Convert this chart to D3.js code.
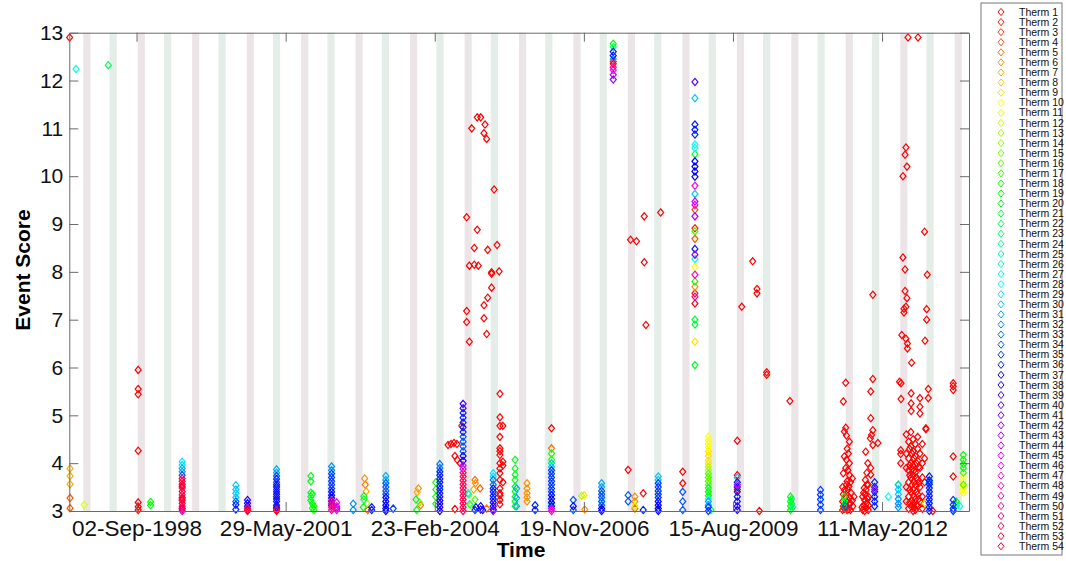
<!DOCTYPE html>
<html>
<head>
<meta charset="utf-8">
<script src="https://cdn.jsdelivr.net/npm/d3@7"></script>
<style>
  body { margin: 0; background: #fff; }
  text { font-family: "Liberation Sans", Arial, Helvetica, sans-serif; }
</style>
</head>
<body>
<svg id="chart" width="1066" height="561"></svg>
<script>
// legend categories
const thermNames = d3.range(1, 55).map(i => "Therm " + i);

// axis ticks
const xTickDates = ["1998-09-02", "2001-05-29", "2004-02-23", "2006-11-19", "2009-08-15", "2012-05-11"];
const yTicks = [3, 4, 5, 6, 7, 8, 9, 10, 11, 12, 13];

// background bands (start, end)
const pinkBands = [
  ["1997-09-10", "1997-10-28"], ["1998-09-10", "1998-10-28"], ["1999-09-10", "1999-10-28"],
  ["2000-09-10", "2000-10-28"], ["2001-09-10", "2001-10-28"], ["2002-09-10", "2002-10-28"],
  ["2003-09-10", "2003-10-28"], ["2004-09-10", "2004-10-28"], ["2005-09-10", "2005-10-28"],
  ["2006-09-10", "2006-10-28"], ["2007-09-10", "2007-10-28"], ["2008-09-10", "2008-10-28"],
  ["2009-09-10", "2009-10-28"], ["2010-09-10", "2010-10-28"], ["2011-09-10", "2011-10-28"],
  ["2012-09-10", "2012-10-28"], ["2013-09-10", "2013-10-28"]
];
const greenBands = [
  ["1998-03-05", "1998-04-22"], ["1999-03-05", "1999-04-22"], ["2000-03-05", "2000-04-22"],
  ["2001-03-05", "2001-04-22"], ["2002-03-05", "2002-04-22"], ["2003-03-05", "2003-04-22"],
  ["2004-03-05", "2004-04-22"], ["2005-03-05", "2005-04-22"], ["2006-03-05", "2006-04-22"],
  ["2007-03-05", "2007-04-22"], ["2008-03-05", "2008-04-22"], ["2009-03-05", "2009-04-22"],
  ["2010-03-05", "2010-04-22"], ["2011-03-05", "2011-04-22"], ["2012-03-05", "2012-04-22"],
  ["2013-03-05", "2013-04-22"]
];

// events: [date, therm number, event scores]
const events = [
  ["1997-06-10", 1, [12.9]],
  ["1997-06-13", 7, [3.89, 3.73, 3.56]],
  ["1997-06-13", 4, [3.27, 3.06]],
  ["1997-07-23", 27, [12.24]],
  ["1997-09-16", 11, [3.13]],
  ["1998-02-24", 22, [12.32]],
  ["1998-09-13", 1, [5.95, 5.55, 5.44, 4.26, 3.18, 3.09, 3.02]],
  ["1998-12-05", 19, [3.19, 3.12]],
  ["1999-07-05", 29, [4.03, 3.96]],
  ["1999-07-05", 31, [3.89, 3.82]],
  ["1999-07-05", 34, [3.75]],
  ["1999-07-05", 44, [3.0, 3.06]],
  ["1999-07-05", 51, [3.62, 3.48, 3.34, 3.22, 3.1]],
  ["1999-07-05", 53, [3.68, 3.56, 3.41, 3.28, 3.16]],
  ["1999-07-05", 54, [3.52, 3.25, 3.04]],
  ["2000-06-29", 30, [3.54, 3.45, 3.37, 3.28]],
  ["2000-06-29", 34, [3.2]],
  ["2000-06-29", 36, [3.13, 3.03]],
  ["2000-09-15", 38, [3.23, 3.16, 3.1]],
  ["2000-09-15", 1, [3.02]],
  ["2000-09-15", 53, [3.06, 3.0]],
  ["2001-03-29", 31, [3.87, 3.8]],
  ["2001-03-29", 34, [3.73, 3.6, 3.45]],
  ["2001-03-29", 36, [3.67, 3.55, 3.4, 3.3, 3.2, 3.12]],
  ["2001-03-29", 38, [3.5, 3.35, 3.25, 3.08]],
  ["2001-03-29", 1, [3.05, 3.0]],
  ["2001-03-29", 53, [3.02]],
  ["2001-11-14", 20, [3.73, 3.62, 3.38, 3.3, 3.22]],
  ["2001-11-24", 19, [3.35, 3.15, 3.06]],
  ["2001-12-05", 18, [3.1, 3.02]],
  ["2002-04-02", 32, [3.93, 3.85]],
  ["2002-04-02", 35, [3.78, 3.7, 3.62, 3.55, 3.47]],
  ["2002-04-02", 37, [3.4, 3.33, 3.27, 3.2, 3.12]],
  ["2002-04-02", 50, [3.22, 3.15, 3.08, 3.02]],
  ["2002-05-06", 47, [3.18, 3.1, 3.02]],
  ["2002-05-06", 40, [3.06]],
  ["2002-08-25", 32, [3.15, 3.02]],
  ["2002-11-10", 6, [3.68]],
  ["2002-11-14", 5, [3.55]],
  ["2002-11-20", 7, [3.41]],
  ["2002-11-05", 20, [3.31, 3.24]],
  ["2002-11-25", 13, [3.16]],
  ["2002-11-01", 19, [3.08]],
  ["2002-12-01", 4, [3.02]],
  ["2002-12-27", 36, [3.08, 3.02]],
  ["2003-04-01", 31, [3.73, 3.65]],
  ["2003-04-01", 34, [3.58, 3.5, 3.42, 3.35]],
  ["2003-04-01", 37, [3.28, 3.2, 3.12, 3.05, 3.0]],
  ["2003-05-20", 35, [3.05]],
  ["2003-11-05", 6, [3.47]],
  ["2003-10-28", 7, [3.39]],
  ["2003-10-20", 19, [3.24]],
  ["2003-11-12", 15, [3.18]],
  ["2003-11-20", 5, [3.12]],
  ["2003-10-25", 20, [3.02]],
  ["2004-03-01", 18, [3.6, 3.45, 3.3, 3.15]],
  ["2004-03-28", 33, [3.98, 3.9]],
  ["2004-03-28", 36, [3.82, 3.75, 3.67, 3.6, 3.52, 3.45, 3.37]],
  ["2004-03-28", 38, [3.3, 3.22, 3.15, 3.08, 3.0]],
  ["2004-05-22", 1, [4.38]],
  ["2004-06-11", 1, [4.4]],
  ["2004-07-01", 1, [4.42]],
  ["2004-07-21", 1, [4.4]],
  ["2004-07-07", 1, [4.15, 3.04]],
  ["2004-07-23", 1, [4.07]],
  ["2004-08-11", 1, [4.0]],
  ["2004-08-22", 2, [4.78]],
  ["2004-08-31", 39, [5.24, 5.15]],
  ["2004-08-31", 36, [5.05, 4.95, 4.85, 4.75, 4.65]],
  ["2004-08-31", 34, [4.55, 4.45, 4.35, 4.25]],
  ["2004-08-31", 37, [4.15, 4.05]],
  ["2004-08-31", 44, [3.95, 3.88]],
  ["2004-08-31", 52, [3.8, 3.72, 3.64, 3.56, 3.48, 3.4, 3.32, 3.24, 3.16, 3.08, 3.0]],
  ["2004-09-24", 1, [9.14, 7.18, 6.95]],
  ["2004-10-12", 1, [8.13, 6.54]],
  ["2004-10-28", 1, [11.0]],
  ["2004-11-14", 1, [8.5, 8.15]],
  ["2004-12-04", 1, [11.23, 8.88]],
  ["2004-12-11", 1, [8.13]],
  ["2004-12-27", 1, [11.23]],
  ["2005-01-18", 1, [10.9, 7.3, 7.03]],
  ["2005-01-25", 1, [11.08]],
  ["2005-02-05", 1, [10.78, 6.7]],
  ["2005-02-12", 1, [8.46, 7.46]],
  ["2005-03-10", 1, [7.99, 7.96, 7.67]],
  ["2005-03-27", 1, [9.72]],
  ["2005-04-16", 1, [8.56]],
  ["2005-04-30", 1, [8.01]],
  ["2004-10-03", 26, [3.37]],
  ["2004-10-08", 17, [3.35]],
  ["2004-10-15", 23, [3.14]],
  ["2004-10-20", 12, [3.12]],
  ["2004-11-10", 7, [3.45]],
  ["2004-11-19", 5, [3.65]],
  ["2004-11-19", 16, [3.24]],
  ["2004-11-19", 35, [3.02]],
  ["2004-11-22", 6, [3.58]],
  ["2004-11-25", 36, [3.08]],
  ["2004-12-23", 4, [3.47]],
  ["2004-12-27", 38, [3.1, 3.03]],
  ["2005-01-10", 38, [3.02]],
  ["2005-02-05", 5, [3.05]],
  ["2005-03-21", 29, [3.79, 3.72]],
  ["2005-03-21", 33, [3.65, 3.55]],
  ["2005-03-21", 36, [3.47, 3.4, 3.32, 3.25]],
  ["2005-03-21", 38, [3.18, 3.1, 3.03]],
  ["2005-03-21", 42, [3.0]],
  ["2005-05-05", 1, [5.45, 4.96, 4.78, 4.55, 4.31, 4.25, 4.17, 4.0, 3.89, 3.79, 3.65, 3.47, 3.37, 3.33, 3.23, 3.14]],
  ["2005-05-25", 1, [4.78, 4.03, 3.95, 3.6]],
  ["2005-08-15", 20, [4.07, 3.89, 3.76, 3.65, 3.51, 3.41, 3.3, 3.2, 3.1]],
  ["2005-08-25", 31, [3.47, 3.27, 3.1]],
  ["2005-11-03", 6, [3.58, 3.47, 3.37, 3.29, 3.2]],
  ["2005-12-27", 36, [3.12, 3.02]],
  ["2006-04-16", 1, [4.73]],
  ["2006-04-16", 5, [4.31]],
  ["2006-04-16", 18, [4.2, 4.07]],
  ["2006-04-16", 26, [3.15]],
  ["2006-04-16", 30, [4.0, 3.92]],
  ["2006-04-16", 35, [3.85, 3.78, 3.7, 3.62, 3.55, 3.47, 3.4]],
  ["2006-04-16", 37, [3.33, 3.25, 3.18, 3.1]],
  ["2006-04-16", 44, [3.05]],
  ["2006-04-16", 49, [3.0]],
  ["2006-09-09", 34, [3.23, 3.02]],
  ["2006-09-09", 37, [3.1]],
  ["2006-11-04", 13, [3.32]],
  ["2006-11-20", 9, [3.33]],
  ["2006-11-25", 6, [3.03]],
  ["2007-03-18", 25, [3.2]],
  ["2007-03-18", 31, [3.58, 3.5]],
  ["2007-03-18", 34, [3.42, 3.35, 3.28, 3.2, 3.12]],
  ["2007-03-18", 37, [3.05, 3.0]],
  ["2007-06-04", 19, [12.77]],
  ["2007-06-04", 23, [12.7]],
  ["2007-06-04", 36, [12.6]],
  ["2007-06-04", 38, [12.52]],
  ["2007-06-04", 31, [12.45]],
  ["2007-06-04", 2, [12.4]],
  ["2007-06-04", 54, [12.35]],
  ["2007-06-04", 48, [12.28]],
  ["2007-06-04", 46, [12.22]],
  ["2007-06-04", 43, [12.12]],
  ["2007-06-04", 42, [12.02]],
  ["2007-09-12", 1, [3.86]],
  ["2007-09-12", 34, [3.33, 3.2]],
  ["2007-09-28", 1, [8.67]],
  ["2007-10-27", 6, [3.3, 3.2]],
  ["2007-10-27", 12, [3.1]],
  ["2007-10-27", 5, [3.05]],
  ["2007-11-07", 1, [8.64]],
  ["2007-12-22", 1, [3.37]],
  ["2007-12-22", 36, [3.02]],
  ["2007-12-29", 1, [9.16, 8.2]],
  ["2008-01-09", 1, [6.89]],
  ["2008-04-17", 1, [9.24]],
  ["2008-04-01", 30, [3.72, 3.65]],
  ["2008-04-01", 35, [3.58, 3.5, 3.42, 3.35, 3.28]],
  ["2008-04-01", 37, [3.2, 3.12, 3.05, 3.0]],
  ["2008-09-12", 1, [3.82, 3.58]],
  ["2008-09-12", 34, [3.4, 3.2, 3.02]],
  ["2008-12-03", 40, [11.97]],
  ["2008-12-03", 30, [11.63, 9.63]],
  ["2008-12-03", 36, [11.08, 10.97, 10.87, 8.48]],
  ["2008-12-03", 28, [10.66, 10.59]],
  ["2008-12-03", 20, [10.46, 6.05]],
  ["2008-12-03", 37, [10.31, 10.2, 10.1, 9.99]],
  ["2008-12-03", 47, [9.8]],
  ["2008-12-03", 44, [9.47]],
  ["2008-12-03", 45, [9.4]],
  ["2008-12-03", 4, [9.3, 8.69]],
  ["2008-12-03", 43, [9.16]],
  ["2008-12-03", 2, [8.91, 7.55]],
  ["2008-12-03", 17, [8.85]],
  ["2008-12-03", 42, [8.36]],
  ["2008-12-03", 27, [8.27]],
  ["2008-12-03", 10, [8.1]],
  ["2008-12-03", 48, [7.94]],
  ["2008-12-03", 18, [7.8]],
  ["2008-12-03", 6, [7.69]],
  ["2008-12-03", 49, [7.48]],
  ["2008-12-03", 1, [7.34]],
  ["2008-12-03", 21, [7.0, 6.9]],
  ["2008-12-03", 9, [6.54]],
  ["2009-03-03", 10, [4.55, 4.47, 4.4, 4.33]],
  ["2009-03-03", 9, [4.25, 4.15, 4.05, 3.99]],
  ["2009-03-03", 13, [3.92, 3.85]],
  ["2009-03-03", 16, [3.78, 3.7, 3.62, 3.55]],
  ["2009-03-03", 19, [3.48, 3.4, 3.32]],
  ["2009-03-03", 27, [3.25]],
  ["2009-03-03", 31, [3.2, 3.12]],
  ["2009-03-03", 35, [3.08, 3.0]],
  ["2009-03-20", 22, [3.02]],
  ["2009-09-13", 1, [4.47, 3.75, 3.45]],
  ["2009-09-13", 30, [3.7]],
  ["2009-09-13", 36, [3.6, 3.5, 3.4, 3.3]],
  ["2009-09-13", 38, [3.2, 3.1, 3.02]],
  ["2009-09-13", 44, [3.55]],
  ["2009-10-13", 1, [7.27]],
  ["2009-12-25", 1, [8.22]],
  ["2010-01-23", 1, [7.64, 7.55]],
  ["2010-02-08", 1, [3.0]],
  ["2010-03-29", 1, [5.85, 5.9]],
  ["2010-09-01", 1, [5.3]],
  ["2010-09-05", 19, [3.3, 3.2, 3.1, 3.02]],
  ["2010-09-12", 22, [3.25, 3.15]],
  ["2010-09-20", 24, [3.08]],
  ["2011-03-25", 35, [3.44, 3.34, 3.24, 3.13, 3.02]],
  ["2011-08-20", 1, [3.5, 3.2, 3.02]],
  ["2011-08-25", 1, [5.29, 3.79, 3.35, 3.1]],
  ["2011-09-01", 1, [4.66, 4.14, 3.44, 3.05]],
  ["2011-09-01", 20, [3.3, 3.2, 3.1]],
  ["2011-09-05", 34, [3.1]],
  ["2011-09-10", 1, [5.68, 4.74, 3.9, 3.3, 3.12]],
  ["2011-09-15", 1, [4.58, 4.07, 3.55, 3.2]],
  ["2011-09-20", 1, [3.62, 4.3, 3.02]],
  ["2011-09-25", 1, [3.23, 3.85, 3.45]],
  ["2011-09-28", 1, [3.04, 4.2]],
  ["2011-10-01", 1, [3.51, 3.15]],
  ["2011-10-05", 1, [4.45, 4.0, 3.75, 3.28]],
  ["2011-10-12", 1, [3.16, 3.6, 3.02]],
  ["2011-10-15", 1, [3.38]],
  ["2011-10-25", 1, [3.68, 3.22]],
  ["2011-10-28", 1, [3.1]],
  ["2011-11-05", 1, [3.3]],
  ["2011-12-28", 1, [3.08]],
  ["2012-01-02", 1, [3.3, 3.02]],
  ["2012-01-08", 1, [3.38, 3.12]],
  ["2012-01-12", 1, [3.48]],
  ["2012-01-15", 1, [3.23, 3.0]],
  ["2012-01-20", 1, [3.65, 3.35]],
  ["2012-01-22", 1, [4.24]],
  ["2012-01-25", 1, [3.44, 3.06]],
  ["2012-01-28", 1, [3.16]],
  ["2012-01-30", 1, [3.8, 3.55]],
  ["2012-02-05", 1, [4.0, 3.25]],
  ["2012-02-08", 1, [3.55, 3.02]],
  ["2012-02-10", 1, [3.3, 3.12]],
  ["2012-02-22", 1, [4.52]],
  ["2012-02-25", 1, [5.5, 4.94, 3.9, 3.76]],
  ["2012-03-01", 1, [4.59]],
  ["2012-03-10", 1, [7.52, 5.76, 4.69, 4.38]],
  ["2012-04-13", 1, [4.42]],
  ["2012-03-22", 36, [3.6, 3.5, 3.4, 3.3, 3.2, 3.1]],
  ["2012-03-22", 42, [3.45]],
  ["2012-06-22", 28, [3.3]],
  ["2012-08-28", 20, [3.55]],
  ["2012-08-28", 30, [3.55, 3.45, 3.35]],
  ["2012-08-28", 32, [3.25, 3.15, 3.08]],
  ["2012-09-05", 1, [5.7]],
  ["2012-09-13", 1, [4.27, 4.19, 4.0]],
  ["2012-09-15", 1, [5.67, 5.34]],
  ["2012-09-20", 1, [6.68]],
  ["2012-09-28", 1, [10.0, 8.3]],
  ["2012-10-05", 1, [7.15, 7.23]],
  ["2012-10-12", 1, [10.45, 8.05, 7.6]],
  ["2012-10-18", 1, [10.6, 7.27, 6.6]],
  ["2012-10-20", 1, [4.6, 4.2, 3.9, 3.5, 3.2]],
  ["2012-10-25", 1, [10.2, 7.45]],
  ["2012-10-28", 1, [6.5, 6.4]],
  ["2012-11-01", 1, [12.9]],
  ["2012-11-05", 1, [4.45, 4.1, 3.85, 3.6, 3.3, 3.05]],
  ["2012-11-12", 1, [4.3, 3.95, 3.75, 3.45, 3.18]],
  ["2012-11-20", 1, [4.65, 4.35, 4.0, 3.7, 3.4, 3.1]],
  ["2012-11-22", 1, [5.46, 5.25, 5.09]],
  ["2012-11-25", 1, [6.1]],
  ["2012-11-28", 1, [4.2, 3.88, 3.55, 3.22]],
  ["2012-12-05", 1, [4.5, 4.25, 3.95, 3.75, 3.45, 3.15, 3.0]],
  ["2012-12-12", 1, [4.1, 3.85, 3.6, 3.3, 3.08]],
  ["2012-12-20", 1, [4.4, 4.15, 3.8, 3.55, 3.25, 3.02]],
  ["2012-12-28", 1, [4.0, 3.7, 3.4, 3.12]],
  ["2013-01-05", 1, [4.55, 4.3, 4.05, 3.65, 3.35, 3.1]],
  ["2013-01-07", 1, [12.9]],
  ["2013-01-12", 1, [3.92, 3.58, 3.25]],
  ["2013-01-20", 1, [5.36, 5.18, 5.04, 4.2, 3.9, 3.5, 3.2]],
  ["2013-02-05", 1, [4.4, 4.0, 3.7, 3.3, 3.05]],
  ["2013-02-20", 1, [8.84, 4.1, 3.6, 3.15]],
  ["2013-02-23", 1, [6.56]],
  ["2013-02-23", 9, [3.16]],
  ["2013-03-01", 1, [4.73, 4.71]],
  ["2013-03-06", 1, [7.22, 7.0]],
  ["2013-03-10", 1, [7.94]],
  ["2013-03-17", 1, [5.55, 5.36]],
  ["2013-03-24", 33, [3.6]],
  ["2013-03-24", 36, [3.72, 3.64, 3.56, 3.48, 3.4, 3.32, 3.24, 3.16, 3.08, 3.0]],
  ["2013-04-16", 1, [3.0]],
  ["2013-08-31", 1, [5.67, 5.61, 5.53, 4.14, 3.72]],
  ["2013-08-31", 35, [3.23, 3.13, 3.05, 3.0]],
  ["2013-09-20", 20, [3.2, 3.12]],
  ["2013-10-15", 28, [3.1]],
  ["2013-11-07", 19, [4.17, 4.07, 3.98, 3.9]],
  ["2013-11-07", 17, [3.8, 3.55]],
  ["2013-11-07", 10, [3.72, 3.62, 3.52, 3.45, 3.38]]
];

const svg = d3.select("#chart");
const parse = d3.utcParse("%Y-%m-%d");
const plot = { left: 69.3, right: 969, top: 32.7, bottom: 511 };

const x = d3.scaleUtc()
  .domain([parse("1997-06-08"), parse("2013-12-15")])
  .range([plot.left, plot.right]);
const y = d3.scaleLinear().domain([3, 13]).range([plot.bottom, plot.top]);
const thermColor = i => d3.hsl((i - 1) / 54 * 360, 1, 0.5).toString();
const diamond = "M0,-3.6L3,0L0,3.6L-3,0Z";

// bands
const bands = svg.append("g");
bands.selectAll(".pink").data(pinkBands).enter().append("rect")
  .attr("x", d => x(parse(d[0])))
  .attr("width", d => x(parse(d[1])) - x(parse(d[0])))
  .attr("y", plot.top).attr("height", plot.bottom - plot.top)
  .attr("fill", "#ece5e7");
bands.selectAll(".green").data(greenBands).enter().append("rect")
  .attr("x", d => x(parse(d[0])))
  .attr("width", d => x(parse(d[1])) - x(parse(d[0])))
  .attr("y", plot.top).attr("height", plot.bottom - plot.top)
  .attr("fill", "#e4ede7");

// flatten, draw in therm order like the original plot
const points = [];
events.forEach(([date, therm, scores]) => scores.forEach(s => points.push({ date: parse(date), therm, score: s })));
points.sort((a, b) => a.therm - b.therm);

svg.append("g").selectAll("path").data(points).enter().append("path")
  .attr("d", diamond)
  .attr("transform", d => `translate(${x(d.date)},${y(d.score)})`)
  .attr("fill", "none")
  .attr("stroke", d => thermColor(d.therm))
  .attr("stroke-width", 1.2);

// axes
const axisColor = "#6a6a6a";
const xTicks = xTickDates.map(parse);
const gx = svg.append("g").attr("transform", `translate(0,${plot.bottom})`)
  .call(d3.axisBottom(x).tickValues(xTicks).tickFormat(d3.utcFormat("%d-%b-%Y"))
    .tickSize(-9).tickSizeOuter(0).tickPadding(9));
const gxTop = svg.append("g").attr("transform", `translate(0,${plot.top})`)
  .call(d3.axisTop(x).tickValues(xTicks).tickFormat("").tickSize(-9).tickSizeOuter(0));
const gy = svg.append("g").attr("transform", `translate(${plot.left},0)`)
  .call(d3.axisLeft(y).tickValues(yTicks).tickSize(-9).tickSizeOuter(0).tickPadding(6));
const gyRight = svg.append("g").attr("transform", `translate(${plot.right},0)`)
  .call(d3.axisRight(y).tickValues(yTicks).tickFormat("").tickSize(-9).tickSizeOuter(0));

[gx, gxTop, gy, gyRight].forEach(g => {
  g.selectAll("path, line").attr("stroke", axisColor);
  g.selectAll("text").attr("fill", "#111").style("font-family", "'Liberation Sans', Arial, sans-serif");
});
gx.selectAll("text").style("font-size", "22.5px");
gy.selectAll("text").style("font-size", "21px");

// axis titles
svg.append("text")
  .attr("x", 521).attr("y", 557)
  .attr("text-anchor", "middle")
  .style("font-size", "21px").style("font-weight", "bold")
  .text("Time");
svg.append("text")
  .attr("transform", "translate(30,270) rotate(-90)")
  .attr("text-anchor", "middle")
  .style("font-size", "21px").style("font-weight", "bold")
  .text("Event Score");

// legend
const legend = svg.append("g");
legend.append("rect")
  .attr("x", 981).attr("y", 3).attr("width", 81).attr("height", 552)
  .attr("fill", "#fff").attr("stroke", "#777");
const rows = legend.selectAll("g.row").data(thermNames).enter().append("g")
  .attr("transform", (d, i) => `translate(0,${12 + i * 10.08})`);
rows.append("path")
  .attr("d", diamond)
  .attr("transform", "translate(1001,0)")
  .attr("fill", "none")
  .attr("stroke", (d, i) => thermColor(i + 1))
  .attr("stroke-width", 1);
rows.append("text")
  .attr("x", 1019).attr("dy", "0.35em")
  .style("font-size", "10.5px")
  .attr("fill", "#111")
  .text(d => d);
</script>
</body>
</html>
